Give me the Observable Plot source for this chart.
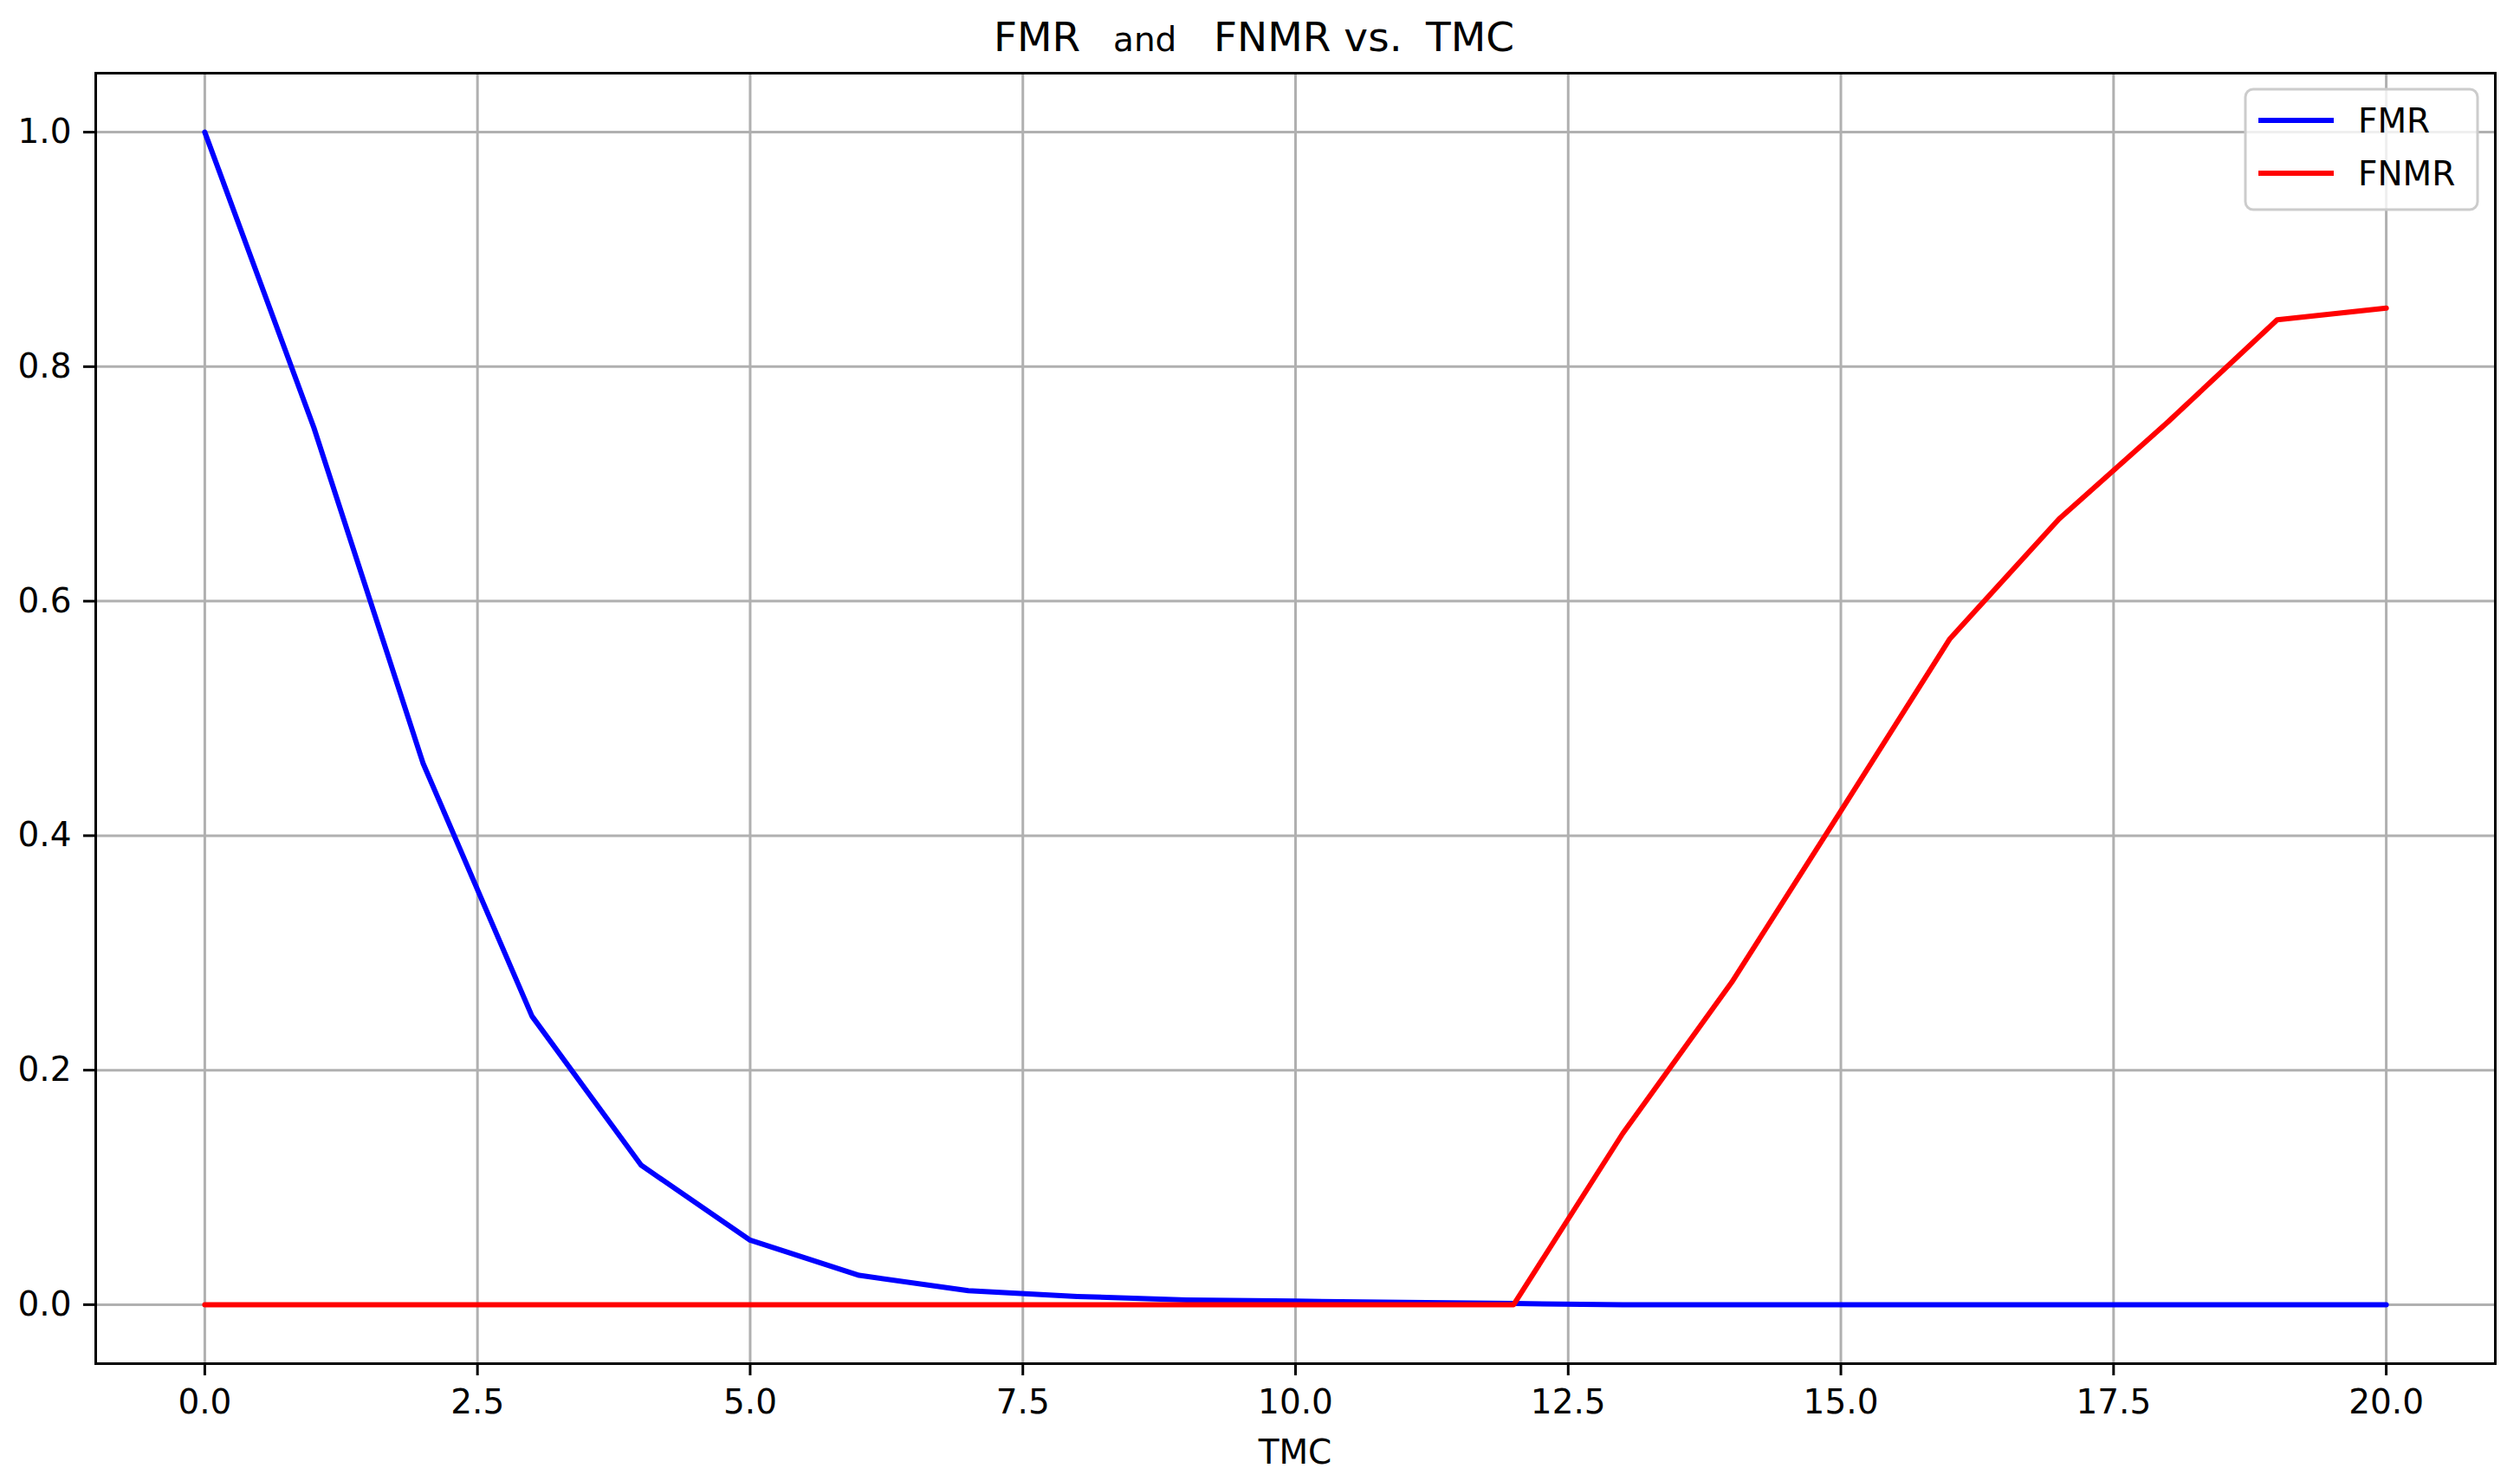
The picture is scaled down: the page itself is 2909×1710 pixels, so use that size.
<!DOCTYPE html>
<html>
<head>
<meta charset="utf-8">
<script src="https://cdn.jsdelivr.net/npm/d3@7"></script>
<script src="https://cdn.jsdelivr.net/npm/@observablehq/plot@0.6"></script>
<style>
  html, body { margin: 0; padding: 0; background: #ffffff; }
  #chart svg { display: block; overflow: visible; }
</style>
</head>
<body>
<div id="chart"></div>
<script>
// ---- data ----
const tmc  = [0, 1, 2, 3, 4, 5, 6, 7, 8, 9, 10, 11, 12, 13, 14, 15, 16, 17, 18, 19, 20];
const fmr  = [1.0, 0.748, 0.462, 0.246, 0.119, 0.055, 0.025, 0.012, 0.007, 0.004, 0.003, 0.002, 0.001, 0, 0, 0, 0, 0, 0, 0, 0];
const fnmr = [0, 0, 0, 0, 0, 0, 0, 0, 0, 0, 0, 0, 0, 0.146, 0.275, 0.421, 0.568, 0.670, 0.753, 0.840, 0.850];
const seriesNames  = ["FMR", "FNMR"];
const seriesColors = ["#0000ff", "#ff0000"];
const xTicks = [0, 2.5, 5, 7.5, 10, 12.5, 15, 17.5, 20];
const yTicks = [0, 0.2, 0.4, 0.6, 0.8, 1.0];
const titleParts = ["FMR", "and", "FNMR vs.", "TMC"];
const xLabel = "TMC";

// ---- build tables ----
const FONT = "DejaVu Sans, sans-serif";
const fmrData  = tmc.map((t, i) => ({tmc: t, value: fmr[i]}));
const fnmrData = tmc.map((t, i) => ({tmc: t, value: fnmr[i]}));
const fmt = d3.format(".1f");

function titleMark() {
  const g = d3.create("svg:g").attr("font-family", FONT).attr("fill", "#000")
    .attr("text-anchor", "start");
  const t = g.append("text").attr("y", 59).attr("text-anchor", "start");
  t.append("tspan").attr("x", 1147).attr("font-size", 47).text(titleParts[0]);
  t.append("tspan").attr("x", 1285).attr("font-size", 39).text(titleParts[1]);
  t.append("tspan").attr("x", 1401).attr("font-size", 47).text(titleParts[2]);
  t.append("tspan").attr("x", 1646).attr("font-size", 47).text(titleParts[3]);
  return g.node();
}

function xLabelMark(index, scales, values, dims) {
  const cx = (dims.marginLeft + dims.width - dims.marginRight) / 2;
  return d3.create("svg:text")
    .attr("x", cx).attr("y", dims.height - 20)
    .attr("text-anchor", "middle")
    .attr("font-family", FONT).attr("font-size", 39).attr("fill", "#000")
    .text(xLabel).node();
}

function legendMark(index, scales, values, dims) {
  const right = dims.width - dims.marginRight;
  const top = dims.marginTop;
  const g = d3.create("svg:g").attr("font-family", FONT).attr("text-anchor", "start");
  const x0 = right - 288, y0 = top + 19, w = 268, h = 139;
  g.append("rect").attr("x", x0).attr("y", y0).attr("width", w).attr("height", h)
    .attr("rx", 9).attr("fill", "#ffffff").attr("fill-opacity", 0.8)
    .attr("stroke", "#cccccc").attr("stroke-width", 3);
  seriesNames.forEach((name, i) => {
    const cy = y0 + 36 + i * 61;
    g.append("line").attr("x1", x0 + 15).attr("x2", x0 + 102)
      .attr("y1", cy).attr("y2", cy)
      .attr("stroke", seriesColors[i]).attr("stroke-width", 6);
    g.append("text").attr("x", x0 + 130).attr("y", cy + 14)
      .attr("text-anchor", "start")
      .attr("font-size", 39).attr("fill", "#000").text(name);
  });
  return g.node();
}

const chart = Plot.plot({
  width: 2909,
  height: 1710,
  marginLeft: 110,
  marginRight: 29,
  marginTop: 84,
  marginBottom: 136,
  style: {background: "#ffffff", fontFamily: FONT, overflow: "visible"},
  x: {domain: [-1, 21], label: null},
  y: {domain: [-0.0503, 1.0503], label: null},
  marks: [
    Plot.gridX(xTicks, {stroke: "#b0b0b0", strokeOpacity: 1, strokeWidth: 3}),
    Plot.gridY(yTicks, {stroke: "#b0b0b0", strokeOpacity: 1, strokeWidth: 3}),
    Plot.line(fmrData,  {x: "tmc", y: "value", stroke: seriesColors[0], strokeWidth: 6}),
    Plot.line(fnmrData, {x: "tmc", y: "value", stroke: seriesColors[1], strokeWidth: 6}),
    Plot.frame({stroke: "#000", strokeWidth: 3}),
    Plot.axisX(xTicks, {tickFormat: fmt, tickSize: 14, tickPadding: 16, fontSize: 39, strokeWidth: 3, stroke: "#000", fill: "#000", label: null}),
    Plot.axisY(yTicks, {tickFormat: fmt, tickSize: 14, tickPadding: 14, fontSize: 39, strokeWidth: 3, stroke: "#000", fill: "#000", label: null}),
    titleMark,
    xLabelMark,
    legendMark
  ]
});
document.getElementById("chart").appendChild(chart);
</script>
</body>
</html>
